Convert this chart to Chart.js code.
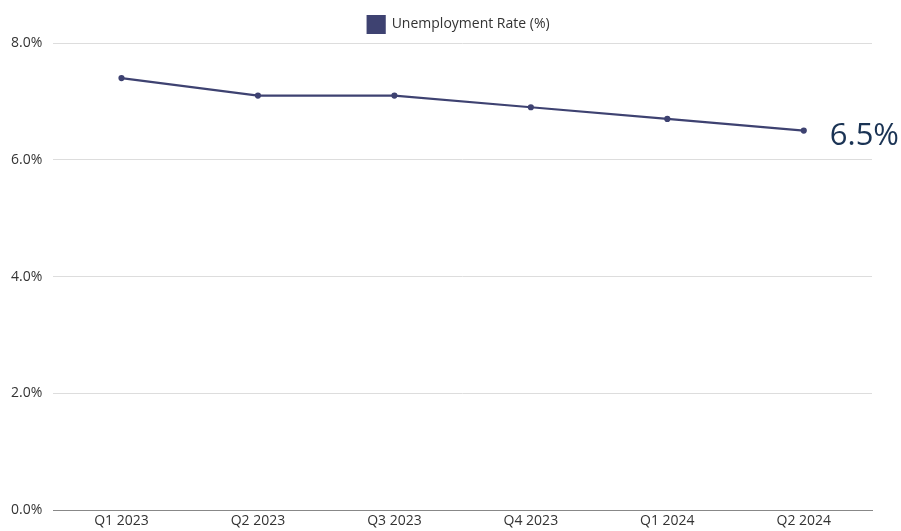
<!DOCTYPE html>
<html>
<head>
<meta charset="utf-8">
<script src="https://cdn.jsdelivr.net/npm/chart.js@4/dist/chart.umd.min.js"></script>
<style>
  html, body { margin: 0; padding: 0; background: #fff; }
  .wrap { width: 901px; height: 531px; }
</style>
</head>
<body>
<div class="wrap"><canvas id="chart"></canvas></div>
<script>
const quarters = ['Q1 2023', 'Q2 2023', 'Q3 2023', 'Q4 2023', 'Q1 2024', 'Q2 2024'];
const unemployment = [7.4, 7.1, 7.1, 6.9, 6.7, 6.5];
const lineColor = '#3e4271';

// big label next to the last point
const lastLabel = {
  id: 'lastLabel',
  afterDatasetsDraw(chart) {
    const meta = chart.getDatasetMeta(0);
    const pt = meta.data[meta.data.length - 1];
    const val = unemployment[unemployment.length - 1];
    const ctx = chart.ctx;
    ctx.save();
    ctx.font = '31px "Open Sans", sans-serif';
    ctx.fillStyle = '#1a3354';
    ctx.textAlign = 'left';
    ctx.textBaseline = 'middle';
    ctx.fillText(val.toFixed(1) + '%', pt.x + 26, pt.y + 6);
    ctx.restore();
  }
};

// legend centred over the plot area instead of the whole canvas
const centerLegend = {
  id: 'centerLegend',
  afterLayout(chart) {
    const l = chart.legend;
    const ca = chart.chartArea;
    const shift = (ca.left + ca.right) / 2 - (l.left + l.right) / 2 - 4;
    l.left += shift;
    l.right += shift;
  }
};

Chart.defaults.font.family = '"Open Sans", sans-serif';
Chart.defaults.color = '#333';

new Chart(document.getElementById('chart'), {
  type: 'line',
  data: {
    labels: quarters,
    datasets: [{
      label: 'Unemployment Rate (%)',
      data: unemployment,
      borderColor: lineColor,
      backgroundColor: lineColor,
      borderWidth: 2.2,
      pointRadius: 2,
      pointBackgroundColor: lineColor,
      tension: 0
    }]
  },
  options: {
    responsive: true,
    maintainAspectRatio: false,
    animation: false,
    layout: { padding: { left: 0, right: 29, top: 6, bottom: 0 } },
    plugins: {
      legend: {
        labels: { boxWidth: 17, boxHeight: 17, font: { size: 14 }, color: '#333', padding: 10 }
      },
      tooltip: { enabled: false }
    },
    scales: {
      x: {
        offset: true,
        grid: { display: false, drawTicks: false },
        border: { color: '#888' },
        ticks: { font: { size: 14 }, color: '#333', padding: 2 }
      },
      y: {
        min: 0,
        max: 8,
        grid: { color: '#ddd', drawTicks: false },
        border: { display: false },
        ticks: {
          stepSize: 2,
          font: { size: 14 },
          color: '#333',
          padding: 11,
          callback: v => v.toFixed(1) + '%'
        }
      }
    }
  },
  plugins: [lastLabel, centerLegend]
});
</script>
</body>
</html>
